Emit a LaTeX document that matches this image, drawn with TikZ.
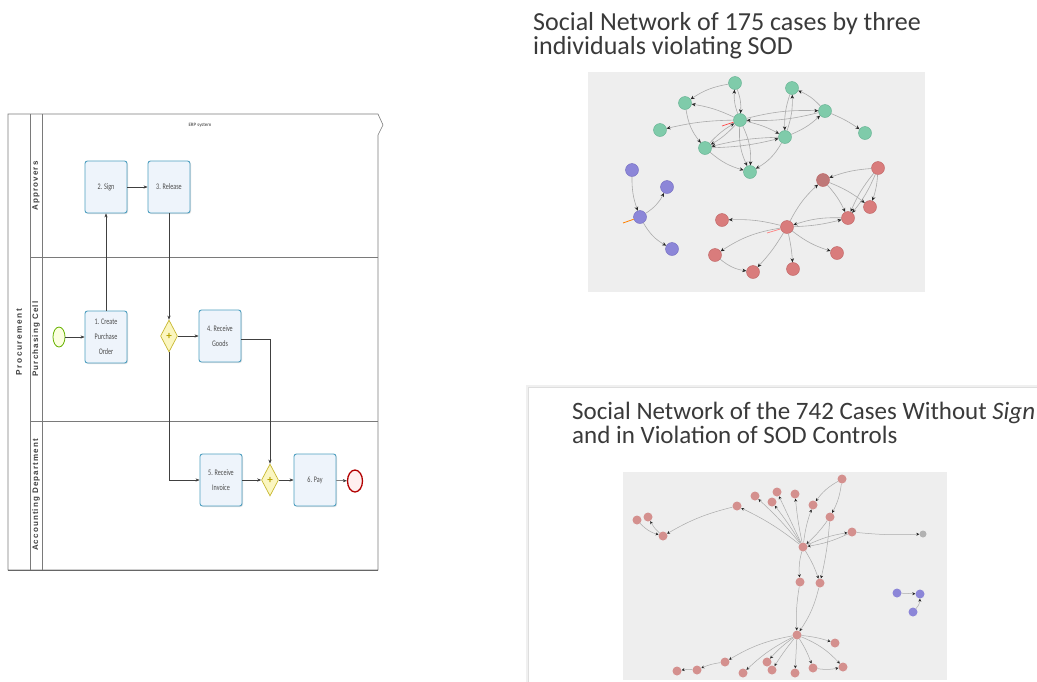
\documentclass[tikz,border=0pt]{standalone}
\usepackage{fontspec}
\setmainfont{Carlito}
\newfontfamily\lanefont{Liberation Sans}
\newfontfamily\taskfont[FakeStretch=0.72]{Carlito}
\usetikzlibrary{arrows.meta,shapes.geometric,shadows}
\definecolor{taskedge}{HTML}{4F9FC0}
\definecolor{taskfill}{HTML}{EEF4FB}
\definecolor{gwedge}{HTML}{C8B830}
\definecolor{gwfill}{HTML}{FBF6C0}
\definecolor{gwplus}{HTML}{B8A400}
\definecolor{lanec}{HTML}{7A7A7A}
\definecolor{panel}{HTML}{EEEEEE}
\definecolor{edgec}{HTML}{ABABAB}
\definecolor{gfill}{HTML}{7FCBAA}
\definecolor{gdraw}{HTML}{5FAE8D}
\definecolor{bfill}{HTML}{8C86D8}
\definecolor{bdraw}{HTML}{6E67BE}
\definecolor{rfill}{HTML}{D97C7C}
\definecolor{rdraw}{HTML}{BD6060}
\definecolor{pfill}{HTML}{D4908E}
\definecolor{titlec}{HTML}{3A3A3A}
\tikzset{
  task/.style={draw=taskedge, fill=taskfill, rounded corners=2.5pt, minimum width=42pt,
    minimum height=52pt, line width=0.9pt, align=center, text=black!70,
    font=\taskfont\fontsize{8.5}{15}\selectfont, inner sep=1pt,
    drop shadow={opacity=0.25, shadow xshift=1pt, shadow yshift=-1pt}},
  gway/.style={diamond, draw=gwedge, fill=gwfill, minimum width=17pt, minimum height=32pt,
    inner sep=0pt, shape aspect=0.5, line width=0.7pt, text=gwplus,
    font=\fontsize{11}{11}\selectfont\bfseries},
  flow/.style={draw=black!75, line width=0.5pt, -{Stealth[length=4pt,width=3.2pt]}},
  lane/.style={draw=lanec, line width=0.6pt},
  lanelbl/.style={rotate=90, font=\lanefont\bfseries\fontsize{8}{8}\selectfont\addfontfeature{LetterSpace=14}, text=black!75},
  gn/.style={circle, fill=gfill, draw=gdraw, line width=0.4pt, minimum size=13pt, inner sep=0pt},
  bn/.style={circle, fill=bfill, draw=bdraw, line width=0.4pt, minimum size=13pt, inner sep=0pt},
  rn/.style={circle, fill=rfill, draw=rdraw, line width=0.4pt, minimum size=13pt, inner sep=0pt},
  pn/.style={circle, fill=pfill, minimum size=9pt, inner sep=0pt},
  qn/.style={circle, fill=bfill, minimum size=9pt, inner sep=0pt},
  ed/.style={draw=edgec, line width=0.6pt, -{Stealth[length=4pt,width=3.5pt,color=black!85]}},
  ed2/.style={draw=edgec, line width=0.5pt, -{Stealth[length=3pt,width=3pt,color=black!85]}},
  title/.style={anchor=base west, inner sep=0pt, text=titlec, font=\fontsize{26}{26}\selectfont},
  titleb/.style={title, font=\fontsize{25}{25}\selectfont},
}
\begin{document}
\begin{tikzpicture}[x=1pt,y=-1pt]
\useasboundingbox (0,0) rectangle (1037,681);
\fill[white] (0,0) rectangle (1037,681);

% ---------------- BPMN pool ----------------
\draw[lane] (8,114) -- (378,114) -- (383,125) -- (378,135) -- (378,570) -- (8,570) -- cycle;
\draw[lane] (30,114) -- (30,570);
\draw[lane] (42,114) -- (42,570);
\draw[lane] (30,257) -- (378,257);
\draw[lane] (30,421) -- (378,421);
\draw[draw=black!60, line width=0.9pt] (8,570) -- (378,570);

\node[font=\fontsize{5}{5}\selectfont, text=black!80] (erp) at (200,125) {ERP system};
\node[lanelbl, font=\lanefont\bfseries\fontsize{8.3}{8.3}\selectfont\addfontfeature{LetterSpace=18}] (proc) at (19,342) {Procurement};
\node[lanelbl] (appr) at (36,186) {Approvers};
\node[lanelbl] (purc) at (36,339) {Purchasing Cell};
\node[lanelbl] (acct) at (36,495) {Accounting Department};

\node[task] (sign) at (106,187) {2. Sign};
\node[task] (rel) at (169,187) {3. Release};
\node[task] (po) at (106,337) {1. Create\\Purchase\\Order};
\node[task] (goods) at (220,336) {4. Receive\\Goods};
\node[task] (inv) at (221,480) {5. Receive\\Invoice};
\node[task] (pay) at (315,480) {6. Pay};
\node[ellipse, draw=green!50!black!60!yellow, fill=green!10!yellow!12, line width=0.8pt, minimum width=12pt, minimum height=20pt, inner sep=0pt] (start) at (59,337) {};
\node[ellipse, draw=red!70!black, fill=red!6, line width=1.3pt, minimum width=15pt, minimum height=22pt, inner sep=0pt] (end) at (355,481) {};
\node[gway] (gw1) at (169,336) {+};
\node[gway] (gw2) at (270,480) {+};

\draw[flow] (start) -- (po);
\draw[flow] (po.north) -- (sign.south);
\draw[flow] (sign) -- (rel);
\draw[flow] (rel.south) -- (gw1.north);
\draw[flow] (gw1) -- (goods);
\draw[flow] (gw1.south) |- (inv.west);
\draw[flow] ([yshift=-3pt]goods.east) -| (gw2.north);
\draw[flow] (inv) -- (gw2);
\draw[flow] (gw2) -- (pay);
\draw[flow] (pay) -- (end);

% ---------------- Title 1 and network 1 ----------------
\node[title] (t1a) at (533,30) {Social Network of 175 cases by three};
\node[title] (t1b) at (533,54) {individuals violating SOD};

\fill[panel] (588,72) rectangle (925,292);

\node[gn] (g1) at (735,83) {};
\node[gn] (g2) at (685,103) {};
\node[gn] (g3) at (792,88) {};
\node[gn] (g4) at (740,120) {};
\node[gn] (g5) at (660,130) {};
\node[gn] (g6) at (825,111) {};
\node[gn] (g7) at (865,133) {};
\node[gn] (g8) at (785,137) {};
\node[gn] (g9) at (705,148) {};
\node[gn] (g10) at (750,172) {};

\node[bn] (b1) at (632,170) {};
\node[bn] (b2) at (667,187) {};
\node[bn] (b3) at (640,217) {};
\node[bn] (b4) at (672,249) {};

\node[rn] (r1) at (878,168) {};
\node[rn, fill=rfill!85!black!90] (r2) at (823,180) {};
\node[rn] (r3) at (870,207) {};
\node[rn] (r4) at (848,218) {};
\node[rn] (r5) at (722,220) {};
\node[rn] (r6) at (787,227) {};
\node[rn] (r7) at (715,255) {};
\node[rn] (r8) at (837,253) {};
\node[rn] (r9) at (753,272) {};
\node[rn] (r10) at (793,269) {};

\draw[ed] (g4) to[bend left=12] (g1);
\draw[ed] (g1) to[bend left=12] (g4);
\draw[ed] (g4) to[bend right=8] (g2);
\draw[ed] (g1) to[bend right=12] (g2);
\draw[ed] (g4) to[bend right=6] (g5);
\draw[ed] (g2) to[bend right=15] (g9);
\draw[ed] (g4) to[bend left=8] (g9);
\draw[ed] (g9) to[bend left=8] (g4);
\draw[ed] (g4) to[bend left=14] (g10);
\draw[ed] (g4) to[bend right=14] (g10);
\draw[ed] (g9) to[bend right=12] (g10);
\draw[ed] (g8) to[bend left=15] (g10);
\draw[ed] (g4) to[bend left=8] (g8);
\draw[ed] (g4) to[bend left=8] (g6);
\draw[ed] (g6) to[bend left=8] (g4);
\draw[ed] (g8) to[bend right=10] (g6);
\draw[ed] (g3) to[bend right=10] (g8);
\draw[ed] (g8) to[bend right=10] (g3);
\draw[ed] (g6) to[bend right=12] (g3);
\draw[ed] (g6) to[bend left=6] (g7);
\draw[ed] (g9) to[bend right=6] (g8);
\draw[ed] (g8) to[bend right=6] (g9);

\draw[ed] (b1) to[bend right=10] (b3);
\draw[ed] (b3) to[bend right=15] (b2);
\draw[ed] (b3) to[bend right=15] (b4);

\draw[ed] (r1) to[bend right=8] (r2);
\draw[ed] (r1) to[bend left=8] (r3);
\draw[ed] (r1) to[bend left=8] (r4);
\draw[ed] (r1) to[bend right=8] (r4);
\draw[ed] (r2) to[bend left=8] (r4);
\draw[ed] (r2) to[bend left=8] (r3);
\draw[ed] (r6) to[bend left=10] (r2);
\draw[ed] (r4) to[bend right=10] (r6);
\draw[ed] (r6) to[bend right=6] (r4);
\draw[ed] (r6) to[bend right=8] (r5);
\draw[ed] (r6) to[bend right=12] (r7);
\draw[ed] (r6) to[bend left=6] (r9);
\draw[ed] (r6) to[bend left=4] (r10);
\draw[ed] (r6) to[bend right=10] (r8);
\draw[ed] (r7) to[bend right=15] (r9);

\coordinate (g4s) at (722,126);
\coordinate (b3s) at (623,223);
\coordinate (r6s) at (767,233);
\draw[red!70, line width=0.7pt] (g4) -- (g4s);
\draw[orange, line width=0.8pt] (b3) -- (b3s);
\draw[red!50, line width=0.7pt] (r6) -- (r6s);

% ---------------- Panel 2 frame and title ----------------
\draw[draw=black!6, line width=2.5pt] (527,386) rectangle (1050,700);
\draw[draw=black!13, line width=0.8pt] (528,387) rectangle (1050,700);
\node[titleb] (t2a) at (572,419) {Social Network of the 742 Cases Without \textit{Sign}};
\node[titleb] (t2b) at (572,443) {and in Violation of SOD Controls};

\fill[panel] (623,472) rectangle (947,680);

\node[pn] (n1) at (637,520) {};
\node[pn] (n2) at (648,517) {};
\node[pn] (n3) at (663,536) {};
\node[pn] (n4) at (737,506) {};
\node[pn] (n5) at (755,496) {};
\node[pn] (n6) at (772,502) {};
\node[pn] (n7) at (777,492) {};
\node[pn] (n8) at (795,494) {};
\node[pn] (n9) at (813,505) {};
\node[pn] (n10) at (842,479) {};
\node[pn] (n11) at (830,517) {};
\node[pn] (n12) at (852,532) {};
\node[pn] (n13) at (803,547) {};
\node[pn, fill=black!30, minimum size=7pt] (n14) at (923,534) {};
\node[pn] (n15) at (800,582) {};
\node[pn] (n16) at (820,583) {};
\node[pn] (n17) at (797,635) {};
\node[pn] (n18) at (835,643) {};
\node[pn] (n19) at (725,662) {};
\node[pn] (n20) at (767,662) {};
\node[pn] (n21) at (677,671) {};
\node[pn] (n22) at (697,670) {};
\node[pn] (n23) at (743,673) {};
\node[pn] (n24) at (772,670) {};
\node[pn] (n25) at (795,673) {};
\node[pn] (n26) at (813,668) {};
\node[pn] (n27) at (843,667) {};
\node[qn] (p1) at (897,593) {};
\node[qn] (p2) at (920,594) {};
\node[qn] (p3) at (913,612) {};

\draw[ed2] (n3) to[bend left=10] (n2);
\draw[ed2] (n1) to[bend right=15] (n3);
\draw[ed2] (n4) to[bend right=8] (n3);
\draw[ed2] (n13) to[bend right=6] (n4);
\draw[ed2] (n13) to[bend right=4] (n5);
\draw[ed2] (n13) to[bend right=3] (n6);
\draw[ed2] (n13) to (n7);
\draw[ed2] (n13) to[bend left=3] (n8);
\draw[ed2] (n13) to[bend left=6] (n9);
\draw[ed2] (n10) to[bend right=12] (n9);
\draw[ed2] (n10) to[bend left=10] (n11);
\draw[ed2] (n11) to[bend left=6] (n13);
\draw[ed2] (n12) to[bend left=8] (n13);
\draw[ed2] (n13) to[bend left=8] (n12);
\draw[ed2] (n12) to[bend right=4] (n14);
\draw[ed2] (n13) to[bend right=10] (n15);
\draw[ed2] (n13) to[bend left=6] (n16);
\draw[ed2] (n11) to[bend left=4] (n16);
\draw[ed2] (n15) to[bend right=6] (n17);
\draw[ed2] (n16) to[bend left=10] (n17);
\draw[ed2] (n17) to[bend left=6] (n18);
\draw[ed2] (n17) to[bend right=10] (n19);
\draw[ed2] (n17) to[bend right=6] (n20);
\draw[ed2] (n17) to[bend right=8] (n23);
\draw[ed2] (n17) to[bend right=3] (n24);
\draw[ed2] (n17) to (n25);
\draw[ed2] (n17) to[bend left=6] (n26);
\draw[ed2] (n17) to[bend left=12] (n27);
\draw[ed2] (n19) to[bend right=8] (n22);
\draw[ed2] (n22) to[bend right=8] (n21);
\draw[ed2] (n26) to[bend right=10] (n27);
\draw[ed2] (p1) to (p2);
\draw[ed2] (p3) to[bend right=20] (p2);
\end{tikzpicture}
\end{document}
